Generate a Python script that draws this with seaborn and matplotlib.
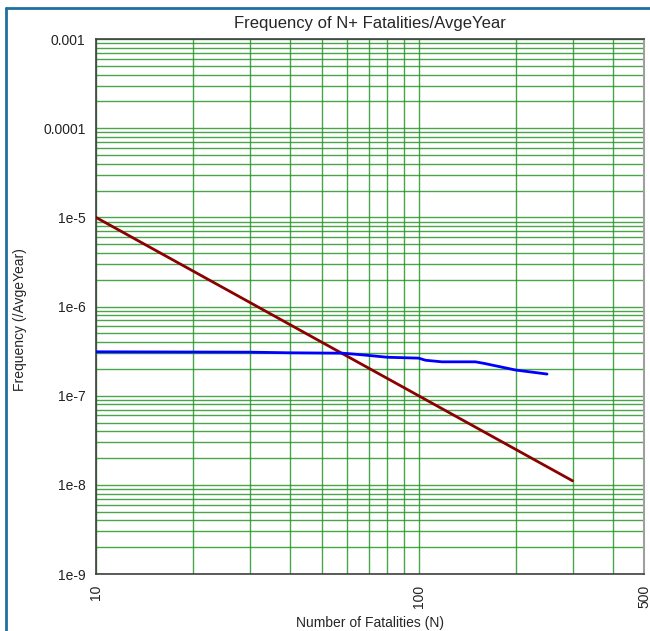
import numpy as np
import pandas as pd
import matplotlib
matplotlib.use("Agg")
import matplotlib.pyplot as plt
import matplotlib.ticker as mticker
from matplotlib.lines import Line2D
import seaborn as sns

# ── Data ────────────────────────────────────────────────────────────────────
criterion_n = [10, 300]
criterion_freq = [1.0e-5, 1.11e-8]

fn_n = [10, 30, 40, 58, 63, 70, 80, 100, 105, 118, 150, 160, 200, 250]
fn_freq = [3.11e-7, 3.08e-7, 3.03e-7, 3.00e-7, 2.93e-7, 2.83e-7, 2.70e-7,
           2.64e-7, 2.50e-7, 2.40e-7, 2.40e-7, 2.30e-7, 1.94e-7, 1.75e-7]

y_ticks = [1e-9, 1e-8, 1e-7, 1e-6, 1e-5, 1e-4, 1e-3]
y_tick_labels = ["1e-9", "1e-8", "1e-7", "1e-6", "1e-5", "0.0001", "0.001"]
x_ticks = [10, 100, 500]
x_tick_labels = ["10", "100", "500"]

# ── Style ───────────────────────────────────────────────────────────────────
sns.set_style("white")
plt.rcParams["font.family"] = ["Liberation Sans", "DejaVu Sans"]

GRID_GREEN = "#2a962a"

fig = plt.figure(figsize=(6.5, 6.31), dpi=100)
ax = fig.add_axes([0.1477, 0.0903, 0.8433, 0.8477])

crit_df = pd.DataFrame({"N": criterion_n, "freq": criterion_freq})
fn_df = pd.DataFrame({"N": fn_n, "freq": fn_freq})

sns.lineplot(data=crit_df, x="N", y="freq", ax=ax, color="#8b0000",
             linewidth=2, zorder=4)
sns.lineplot(data=fn_df, x="N", y="freq", ax=ax, color="#0000ff",
             linewidth=2, zorder=4)

ax.set_xscale("log")
ax.set_yscale("log")
ax.set_xlim(10, 500)
ax.set_ylim(1e-9, 1e-3)

ax.xaxis.set_major_locator(mticker.FixedLocator(x_ticks))
ax.xaxis.set_major_formatter(mticker.FixedFormatter(x_tick_labels))
ax.xaxis.set_minor_locator(mticker.LogLocator(base=10, subs=np.arange(2, 10)))
ax.xaxis.set_minor_formatter(mticker.NullFormatter())

ax.yaxis.set_major_locator(mticker.FixedLocator(y_ticks))
ax.yaxis.set_major_formatter(mticker.FixedFormatter(y_tick_labels))
ax.yaxis.set_minor_locator(mticker.LogLocator(base=10, subs=np.arange(2, 10)))
ax.yaxis.set_minor_formatter(mticker.NullFormatter())

ax.grid(True, which="both", color=GRID_GREEN, linewidth=1.0, alpha=0.85)
ax.set_axisbelow(True)

ax.tick_params(axis="both", which="both", direction="out", length=4,
               width=1, labelsize=10, colors="#222222")
ax.tick_params(axis="both", which="both", color=GRID_GREEN)
for lab in ax.get_xticklabels():
    lab.set_rotation(90)

for side in ["left", "bottom", "top"]:
    ax.spines[side].set_color("#404040")
    ax.spines[side].set_linewidth(1.2)
ax.spines["right"].set_color("#a0a0a0")
ax.spines["right"].set_linewidth(1.5)

ax.set_title("Frequency of N+ Fatalities/AvgeYear", fontsize=12, pad=8)
ax.set_xlabel("Number of Fatalities (N)", fontsize=10, labelpad=6)
ax.set_ylabel("Frequency (/AvgeYear)", fontsize=10)
ax.yaxis.set_label_coords(-0.126, 0.475)

# blue frame on the left and top of the figure
fig.add_artist(Line2D([0.009, 0.009], [0.0, 0.987], transform=fig.transFigure,
                      color="#1f6f9f", linewidth=2))
fig.add_artist(Line2D([0.009, 1.0], [0.987, 0.987], transform=fig.transFigure,
                      color="#1f6f9f", linewidth=2))

fig.savefig("out.png", dpi=100)
